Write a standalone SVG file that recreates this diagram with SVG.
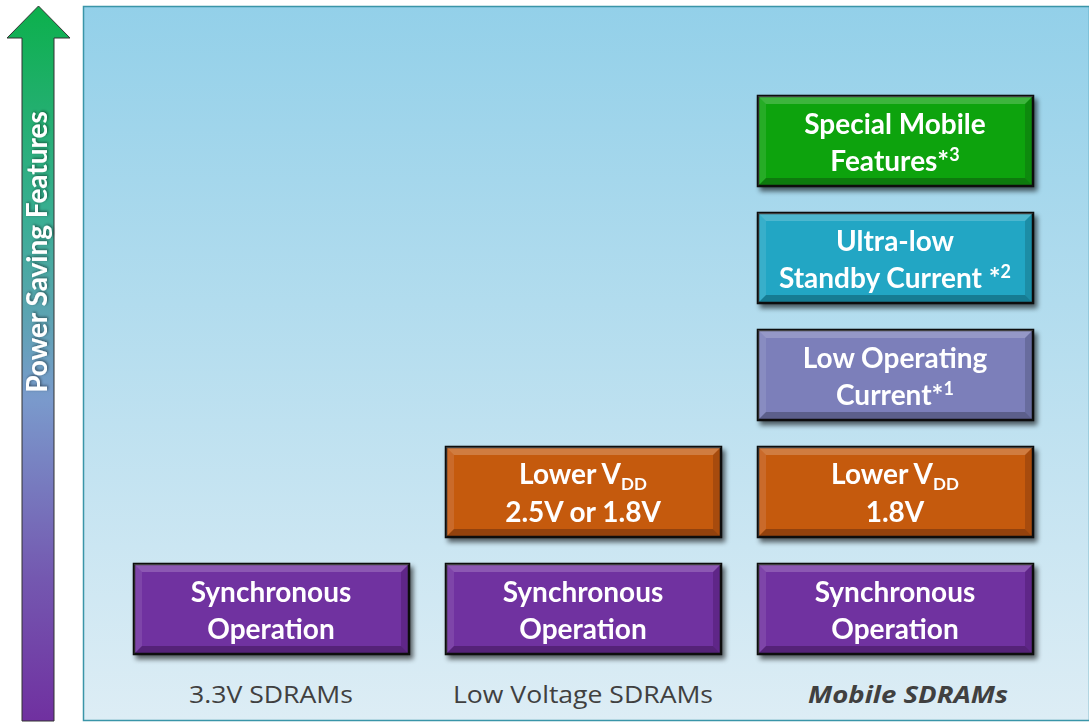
<svg xmlns="http://www.w3.org/2000/svg" width="1089" height="728" viewBox="0 0 1089 728">
<defs>
<linearGradient id="bg" x1="0" y1="0" x2="0" y2="1">
<stop offset="0" stop-color="#93d0e9"/>
<stop offset="1" stop-color="#ddedf5"/>
</linearGradient>
<linearGradient id="arr" x1="0" y1="0" x2="0" y2="1">
<stop offset="0" stop-color="#0cb04c"/>
<stop offset="0.3" stop-color="#3aae94"/>
<stop offset="0.55" stop-color="#7a9acc"/>
<stop offset="0.8" stop-color="#7458b0"/>
<stop offset="1" stop-color="#7030a0"/>
</linearGradient>
<filter id="sh" x="-10%" y="-10%" width="125%" height="130%">
<feGaussianBlur in="SourceAlpha" stdDeviation="2.5"/>
<feOffset dx="3" dy="4" result="b"/>
<feComponentTransfer><feFuncA type="linear" slope="0.6"/></feComponentTransfer>
<feMerge><feMergeNode/><feMergeNode in="SourceGraphic"/></feMerge>
</filter>
<filter id="tsh" x="-20%" y="-20%" width="140%" height="140%">
<feGaussianBlur in="SourceAlpha" stdDeviation="1.5"/>
<feOffset dx="1" dy="1"/>
<feComponentTransfer><feFuncA type="linear" slope="0.5"/></feComponentTransfer>
<feMerge><feMergeNode/><feMergeNode in="SourceGraphic"/></feMerge>
</filter>
<g id="bevel">
<polygon points="0,0 275,0 267,8 8,8" fill="#fff" fill-opacity="0.2"/>
<polygon points="0,0 8,8 8,82 0,90" fill="#fff" fill-opacity="0.1"/>
<polygon points="275,0 275,90 267,82 267,8" fill="#000" fill-opacity="0.15"/>
<polygon points="0,90 8,82 267,82 275,90" fill="#000" fill-opacity="0.25"/>
</g>
</defs>
<style>
.box{stroke:#111;stroke-width:2.5}
.t{font-family:Lato,"Open Sans",sans-serif;font-weight:bold;font-size:28px;fill:#fff;text-anchor:middle}
.lab{font-family:"Open Sans","Liberation Sans",sans-serif;font-size:24px;fill:#404040;text-anchor:middle}
</style>
<rect x="83.5" y="6.5" width="1006" height="714" fill="url(#bg)" stroke="#3a95a8" stroke-width="1.5"/>
<g id="axis-arrow">
<polygon points="38.5,6 70,38 54,38 54,721 22,721 22,38 7,38" fill="url(#arr)" stroke="#333" stroke-width="1"/>
<text transform="translate(47,252) rotate(-90)" class="t" font-size="27" filter="url(#tsh)">Power Saving Features</text>
</g>
<g id="col1-sync" filter="url(#sh)">
<rect class="box" x="134" y="564" width="275" height="90" fill="#7030a0"/>
<use href="#bevel" x="134" y="564"/>
<text class="t" x="271" y="602">Synchronous</text>
<text class="t" x="271" y="639">Operation</text>
</g>
<g id="col2-sync" filter="url(#sh)">
<rect class="box" x="446" y="564" width="275" height="90" fill="#7030a0"/>
<use href="#bevel" x="446" y="564"/>
<text class="t" x="583" y="602">Synchronous</text>
<text class="t" x="583" y="639">Operation</text>
</g>
<g id="col3-sync" filter="url(#sh)">
<rect class="box" x="758" y="564" width="275" height="90" fill="#7030a0"/>
<use href="#bevel" x="758" y="564"/>
<text class="t" x="895" y="602">Synchronous</text>
<text class="t" x="895" y="639">Operation</text>
</g>
<g id="col2-vdd" filter="url(#sh)">
<rect class="box" x="446" y="447" width="275" height="90" fill="#c55a11"/>
<use href="#bevel" x="446" y="447"/>
<text class="t" x="583" y="484">Lower V<tspan font-size="17" dy="6">DD</tspan></text>
<text class="t" x="583" y="522">2.5V or 1.8V</text>
</g>
<g id="col3-vdd" filter="url(#sh)">
<rect class="box" x="758" y="447" width="275" height="90" fill="#c55a11"/>
<use href="#bevel" x="758" y="447"/>
<text class="t" x="895" y="484">Lower V<tspan font-size="17" dy="6">DD</tspan></text>
<text class="t" x="895" y="522">1.8V</text>
</g>
<g id="col3-lowop" filter="url(#sh)">
<rect class="box" x="758" y="330" width="275" height="90" fill="#7b7fba"/>
<use href="#bevel" x="758" y="330"/>
<text class="t" x="895" y="368">Low Operating</text>
<text class="t" x="895" y="405">Current*<tspan font-size="18" dy="-10">1</tspan></text>
</g>
<g id="col3-standby" filter="url(#sh)">
<rect class="box" x="758" y="213" width="275" height="90" fill="#21a6c4"/>
<use href="#bevel" x="758" y="213"/>
<text class="t" x="895" y="251">Ultra-low</text>
<text class="t" x="895" y="288">Standby Current *<tspan font-size="18" dy="-10">2</tspan></text>
</g>
<g id="col3-special" filter="url(#sh)">
<rect class="box" x="758" y="96" width="275" height="90" fill="#0ea30e"/>
<use href="#bevel" x="758" y="96"/>
<text class="t" x="895" y="134">Special Mobile</text>
<text class="t" x="895" y="171">Features*<tspan font-size="18" dy="-10">3</tspan></text>
</g>
<g id="labels">
<text class="lab" x="271" y="703" textLength="164" lengthAdjust="spacingAndGlyphs">3.3V SDRAMs</text>
<text class="lab" x="583" y="703" textLength="260" lengthAdjust="spacingAndGlyphs">Low Voltage SDRAMs</text>
<text class="lab" x="908" y="703" font-weight="bold" font-style="italic" fill="#222" textLength="200" lengthAdjust="spacingAndGlyphs">Mobile SDRAMs</text>
</g>
</svg>
